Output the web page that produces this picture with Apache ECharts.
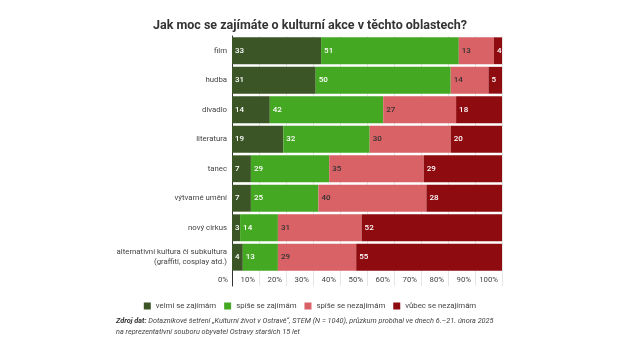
<!DOCTYPE html>
<html>
<head>
<meta charset="utf-8">
<script src="https://cdn.jsdelivr.net/npm/echarts@6/dist/echarts.min.js"></script>
<style>
  html, body { margin: 0; padding: 0; background: #fff; }
  #chart { width: 620px; height: 349px; }
</style>
</head>
<body>
<div id="chart"></div>
<script>
// Oblasti kultury (shora dolů)
const categories = [
  'film',
  'hudba',
  'divadlo',
  'literatura',
  'tanec',
  'výtvarné umění',
  'nový cirkus',
  'alternativní kultura či subkultura\n(graffiti, cosplay atd.)'
];

// Podíly odpovědí v procentech
const velmi = [33, 31, 14, 19, 7, 7, 3, 4];
const spise = [51, 50, 42, 32, 29, 25, 14, 13];
const spiseNe = [13, 14, 27, 30, 35, 40, 31, 29];
const vubecNe = [4, 5, 18, 20, 29, 28, 52, 55];

const seriesNames = ['velmi se zajímám', 'spíše se zajímám', 'spíše se nezajímám', 'vůbec se nezajímám'];
const seriesColors = ['#3b5526', '#45a823', '#d96266', '#8e0b10'];
const labelColors = ['#ffffff', '#ffffff', '#333333', '#ffffff'];
const seriesData = [velmi, spise, spiseNe, vubecNe];

const tickValues = [0, 10, 20, 30, 40, 50, 60, 70, 80, 90, 100];

const FONT = 'Roboto, "Noto Sans", sans-serif';
const chart = echarts.init(document.getElementById('chart'), null, { renderer: 'canvas' });

const series = seriesData.map((data, i) => ({
  name: seriesNames[i],
  type: 'bar',
  stack: 'total',
  xAxisIndex: 0,
  yAxisIndex: 0,
  barCategoryGap: '9%',
  data: data,
  itemStyle: { color: seriesColors[i] },
  label: {
    show: true,
    position: 'insideLeft',
    distance: 3,
    color: labelColors[i],
    fontFamily: FONT,
    fontSize: 8,
    fontWeight: 500
  },
  emphasis: { disabled: true }
}));

chart.setOption({
  animation: false,
  backgroundColor: '#ffffff',
  title: {
    text: 'Jak moc se zajímáte o kulturní akce v těchto oblastech?',
    left: 'center',
    top: 14,
    textStyle: { fontFamily: FONT, fontSize: 12.5, fontWeight: 'bold', color: '#333333' }
  },
  legend: {
    data: seriesNames,
    top: 297,
    left: 'center',
    itemWidth: 7,
    itemHeight: 7,
    itemGap: 8,
    icon: 'rect',
    textStyle: { fontFamily: FONT, fontSize: 7.8, color: '#444444' }
  },
  grid: [
    { left: 232, right: 118, top: 36, bottom: 77 },
    { left: 232, right: 118, top: 272, bottom: 63 }
  ],
  xAxis: [
    {
      gridIndex: 0,
      type: 'value',
      min: 0,
      max: 100,
      interval: 10,
      axisLabel: { show: false },
      axisLine: { show: false },
      axisTick: { show: false },
      splitLine: { show: true, lineStyle: { color: '#e6e6e6', width: 1 } }
    },
    {
      gridIndex: 1,
      type: 'value',
      position: 'top',
      min: 0,
      max: 100,
      interval: 10,
      axisLine: { show: false },
      axisTick: { show: false },
      splitLine: { show: true, lineStyle: { color: '#e6e6e6', width: 1 } },
      axisLabel: {
        inside: true,
        margin: 4,
        align: 'right',
        padding: [0, 4, 0, 0],
        fontFamily: FONT,
        fontSize: 7.8,
        color: '#444444',
        showMinLabel: true,
        showMaxLabel: true,
        formatter: v => tickValues.includes(v) ? v + '%' : ''
      }
    }
  ],
  yAxis: [
    {
      gridIndex: 0,
      type: 'category',
      inverse: true,
      data: categories,
      axisLine: { show: true, lineStyle: { color: '#333333', width: 1 } },
      axisTick: { show: false },
      axisLabel: {
        margin: 5,
        fontFamily: FONT,
        fontSize: 7.8,
        lineHeight: 10,
        color: '#444444'
      }
    },
    {
      gridIndex: 1,
      type: 'value',
      axisLine: { show: true, lineStyle: { color: '#333333', width: 1 } },
      axisTick: { show: false },
      axisLabel: { show: false },
      splitLine: { show: false }
    }
  ],
  series: series,
  graphic: [
    {
      type: 'text',
      left: 116,
      top: 316,
      style: {
        text: '{b|Zdroj dat:} {i|Dotazníkové šetření „Kulturní život v Ostravě“, STEM (N = 1040), průzkum probíhal ve dnech 6.–21. února 2025}\n{i|na reprezentativní souboru obyvatel Ostravy starších 15 let}',
        fontFamily: FONT,
        fontSize: 7.3,
        lineHeight: 10.6,
        fill: '#444444',
        rich: {
          b: { fontFamily: FONT, fontSize: 7.3, fontStyle: 'italic', fontWeight: 'bold', fill: '#333333', lineHeight: 10.6 },
          i: { fontFamily: FONT, fontSize: 7.3, fontStyle: 'italic', fill: '#444444', lineHeight: 10.6 }
        }
      }
    }
  ]
});
</script>
</body>
</html>
